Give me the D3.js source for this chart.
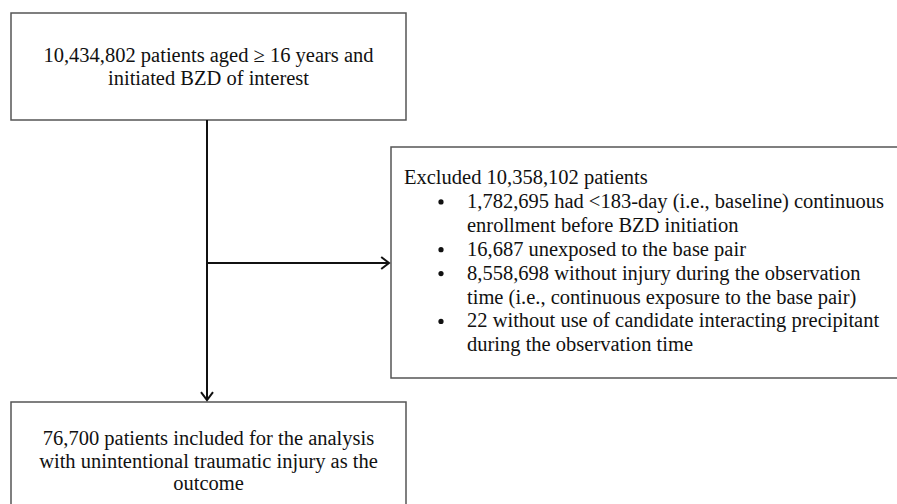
<!DOCTYPE html>
<html lang="en">
<head>
<meta charset="utf-8">
<title>Flow chart: BZD cohort</title>
<script src="https://d3js.org/d3.v7.min.js"></script>
<style>
  body { margin: 0; background: #fff; }
  svg { display: block; background: #fff; }
  .box { fill: #fff; stroke: #555; stroke-width: 1.5px; }
  .flow { fill: none; stroke: #111; stroke-width: 2px; }
</style>
</head>
<body>
<script>

// text of each box
var topLines = ["10,434,802 patients aged \u2265 16 years and", "initiated BZD of interest"];
var excludedHeader = "Excluded 10,358,102 patients";
var excludedItems = [
  ["1,782,695 had <183-day (i.e., baseline) continuous", "enrollment before BZD initiation"],
  ["16,687 unexposed to the base pair"],
  ["8,558,698 without injury during the observation", "time (i.e., continuous exposure to the base pair)"],
  ["22 without use of candidate interacting precipitant", "during the observation time"]
];
var bottomLines = ["76,700 patients included for the analysis", "with unintentional traumatic injury as the", "outcome"];

var w = 897, h = 504;
var fs = 20.5;
var font = "'Liberation Serif'";

var svg = d3.select("body").append("svg")
  .attr("width", w)
  .attr("height", h);

// box frames
var topBox = {x: 11, y: 13, w: 395, h: 107};
var rightBox = {x: 391, y: 147, w: 520, h: 231};
var bottomBox = {x: 11, y: 402, w: 395, h: 120};

[topBox, rightBox, bottomBox].forEach(function(b) {
  svg.append("rect").attr("class", "box")
    .attr("x", b.x).attr("y", b.y)
    .attr("width", b.w).attr("height", b.h);
});

function addText(g, x, y, str, anchor) {
  return g.append("text")
    .attr("x", x).attr("y", y)
    .attr("text-anchor", anchor || "start")
    .style("font-family", font)
    .style("font-size", fs + "px")
    .style("fill", "#111")
    .text(str);
}

// top box text, centered
var tg = svg.append("g");
topLines.forEach(function(d, i) {
  addText(tg, topBox.x + topBox.w / 2, 62 + i * 23, d, "middle");
});

// bottom box text, centered
var bg = svg.append("g");
bottomLines.forEach(function(d, i) {
  addText(bg, bottomBox.x + bottomBox.w / 2, 445 + i * 22.5, d, "middle");
});

// excluded box
var lineH = 23.9;
var rg = svg.append("g");
addText(rg, 404, 184, excludedHeader);

var row = 1;
excludedItems.forEach(function(item) {
  rg.append("circle")
    .attr("cx", 441).attr("cy", 184 + row * lineH - 6)
    .attr("r", 2.6).style("fill", "#111");
  item.forEach(function(line) {
    addText(rg, 467, 184 + row * lineH, line);
    row++;
  });
});

// connectors
var trunkX = 207, branchY = 263;
svg.append("line").attr("class", "flow")
  .attr("x1", trunkX).attr("y1", topBox.y + topBox.h)
  .attr("x2", trunkX).attr("y2", bottomBox.y - 2);
svg.append("line").attr("class", "flow")
  .attr("x1", trunkX).attr("y1", branchY)
  .attr("x2", rightBox.x - 2).attr("y2", branchY);

// open arrow heads
var a = 6;
svg.append("path").attr("class", "flow")
  .attr("d", d3.line()([[trunkX - a, bottomBox.y - 2 - a * 1.3], [trunkX, bottomBox.y - 2], [trunkX + a, bottomBox.y - 2 - a * 1.3]]));
svg.append("path").attr("class", "flow")
  .attr("d", d3.line()([[rightBox.x - 2 - a * 1.3, branchY - a], [rightBox.x - 2, branchY], [rightBox.x - 2 - a * 1.3, branchY + a]]));

</script>
</body>
</html>
